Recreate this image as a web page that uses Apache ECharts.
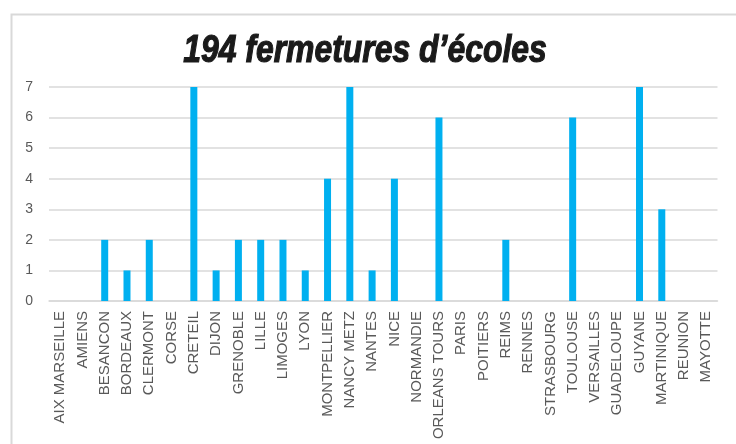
<!DOCTYPE html>
<html>
<head>
<meta charset="utf-8">
<script src="https://cdn.jsdelivr.net/npm/echarts@6/dist/echarts.min.js"></script>
<style>
html,body{margin:0;padding:0;background:#fff;}
#chart{width:736px;height:444px;}
</style>
</head>
<body>
<div id="chart"></div>
<script>
const titleText = "194 fermetures d\u2019écoles";
const categories = ["AIX MARSEILLE","AMIENS","BESANCON","BORDEAUX","CLERMONT","CORSE","CRETEIL","DIJON","GRENOBLE","LILLE","LIMOGES","LYON","MONTPELLIER","NANCY METZ","NANTES","NICE","NORMANDIE","ORLEANS TOURS","PARIS","POITIERS","REIMS","RENNES","STRASBOURG","TOULOUSE","VERSAILLES","GUADELOUPE","GUYANE","MARTINIQUE","REUNION","MAYOTTE"];
const fermetures = [0,0,2,1,2,0,7,1,2,2,2,1,4,7,1,4,0,6,0,0,2,0,0,6,0,0,7,3,0,0];
const yTicks = {min:0, max:7, interval:1};

const chart = echarts.init(document.getElementById('chart'));
chart.setOption({
  animation:false,
  backgroundColor:'#ffffff',
  graphic:[{
    type:'rect', left:9, top:12, silent:true,
    shape:{width:760, height:460},
    style:{fill:'none', stroke:'#d9d9d9', lineWidth:2}
  },{
    type:'text', x:365, y:51, scaleX:0.84, scaleY:1.04, silent:true,
    style:{
      text:titleText, align:'center', verticalAlign:'middle',
      font:'italic bold 38px "Liberation Sans", Arial, sans-serif',
      fill:'#1a1a1a', stroke:'#1a1a1a', lineWidth:1.2
    }
  }],
  grid:{left:49, right:18.5, top:87, bottom:143, containLabel:false},
  xAxis:{
    type:'category', data:categories,
    axisLine:{show:true, lineStyle:{color:'#d9d9d9', width:1.5}},
    axisTick:{show:false},
    axisLabel:{interval:0, rotate:90, margin:10, color:'#595959', fontFamily:'"Liberation Sans",sans-serif', fontSize:15}
  },
  yAxis:{
    type:'value', min:yTicks.min, max:yTicks.max, interval:yTicks.interval,
    axisLine:{show:false}, axisTick:{show:false},
    splitLine:{lineStyle:{color:'#d9d9d9', width:1.5}},
    axisLabel:{margin:16, color:'#595959', fontFamily:'"Liberation Sans",sans-serif', fontSize:14}
  },
  series:[{
    type:'bar', data:fermetures, barWidth:7,
    itemStyle:{color:'#00b0f0'}
  }]
});
</script>
</body>
</html>
